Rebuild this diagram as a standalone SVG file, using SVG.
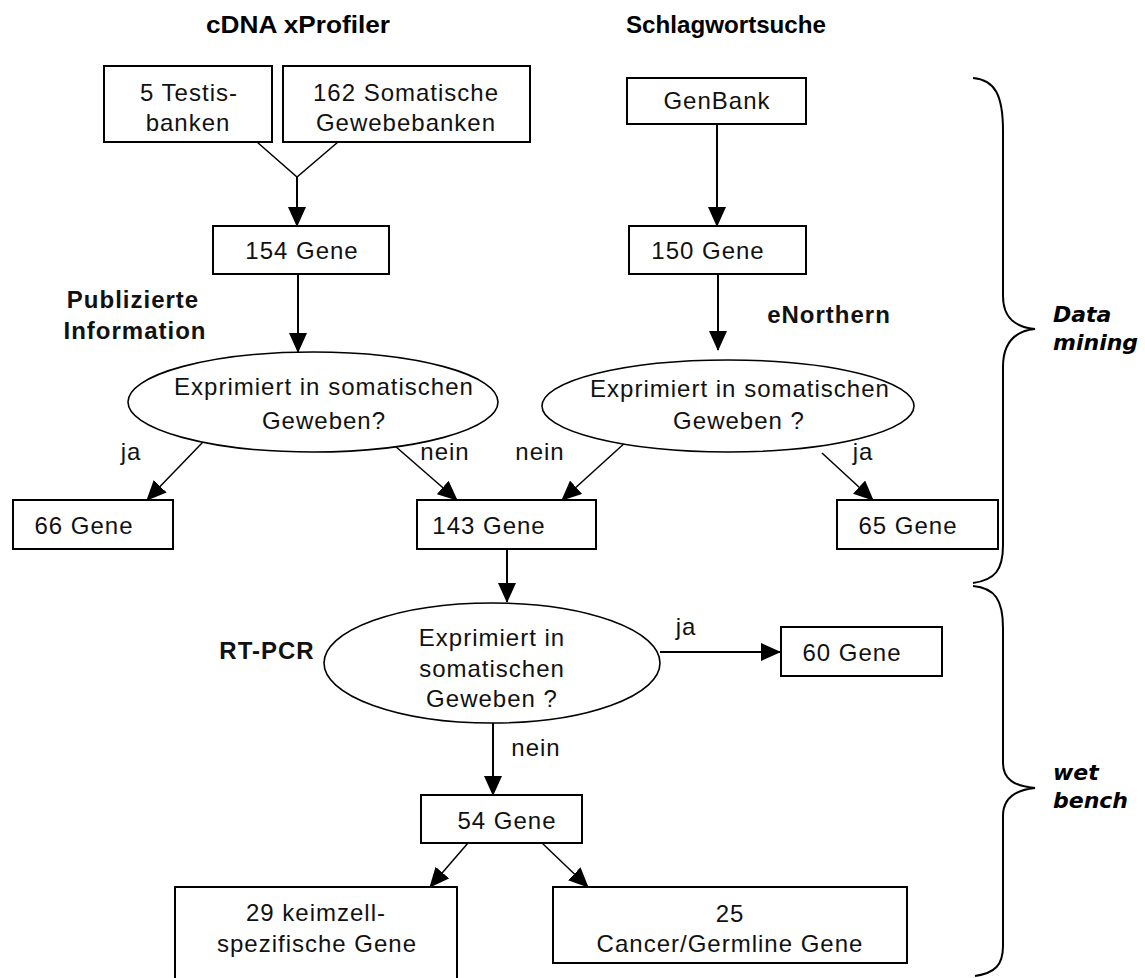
<svg xmlns="http://www.w3.org/2000/svg" width="1145" height="978" viewBox="0 0 1145 978">
<defs>
<style>
.bg{fill:#fff}
.box{fill:#fff;stroke:#000;stroke-width:2}
.ell{fill:#fff;stroke:#000;stroke-width:1.6}
.t{font-family:"Liberation Sans",Arial,sans-serif;font-size:24px;letter-spacing:1px;fill:#111;text-anchor:middle}
.b{font-family:"Liberation Sans",Arial,sans-serif;font-size:24px;font-weight:bold;letter-spacing:1px;fill:#111;text-anchor:middle}
.h{font-family:"Liberation Sans",Arial,sans-serif;font-size:24px;font-weight:bold;fill:#000;text-anchor:middle}
.s{font-family:"DejaVu Sans",Verdana,sans-serif;font-size:22px;font-weight:bold;font-style:italic;fill:#000}
.c{fill:none;stroke:#000;stroke-width:2}
.d{fill:none;stroke:#000;stroke-width:1.5}
.br{fill:none;stroke:#000;stroke-width:2}
</style>
<marker id="ah" markerUnits="userSpaceOnUse" markerWidth="20" markerHeight="18" refX="19" refY="9" orient="auto">
<path d="M0,0 L20,9 L0,18 Z" fill="#000"/>
</marker>
</defs>
<rect class="bg" x="0" y="0" width="1145" height="978"/>

<g id="titles">
<text class="h" x="298" y="33" textLength="184" lengthAdjust="spacingAndGlyphs">cDNA xProfiler</text>
<text class="h" x="726" y="33" textLength="200" lengthAdjust="spacingAndGlyphs">Schlagwortsuche</text>
<text class="b" x="133" y="308">Publizierte</text>
<text class="b" x="135" y="339">Information</text>
<text class="b" x="829" y="323">eNorthern</text>
<text class="b" x="267" y="659">RT-PCR</text>
<text class="s" x="1053" y="322">Data</text>
<text class="s" x="1053" y="350">mining</text>
<text class="s" x="1053" y="780">wet</text>
<text class="s" x="1053" y="808">bench</text>
</g>

<g id="connectors">
<polyline class="d" points="257,142 297,177 338,142"/>
<line class="c" x1="297" y1="177" x2="297" y2="226" marker-end="url(#ah)"/>
<line class="c" x1="717" y1="124" x2="717" y2="226" marker-end="url(#ah)"/>
<line class="c" x1="298" y1="274" x2="298" y2="352" marker-end="url(#ah)"/>
<line class="c" x1="718" y1="274" x2="718" y2="350" marker-end="url(#ah)"/>
<line class="d" x1="203" y1="442" x2="147" y2="500" marker-end="url(#ah)"/>
<line class="d" x1="387" y1="439" x2="457" y2="500" marker-end="url(#ah)"/>
<line class="d" x1="627" y1="441" x2="562" y2="500" marker-end="url(#ah)"/>
<line class="d" x1="822" y1="453" x2="873" y2="500" marker-end="url(#ah)"/>
<line class="c" x1="507" y1="549" x2="507" y2="602" marker-end="url(#ah)"/>
<line class="c" x1="660" y1="652" x2="780" y2="652" marker-end="url(#ah)"/>
<line class="c" x1="493" y1="723" x2="493" y2="795" marker-end="url(#ah)"/>
<line class="d" x1="468" y1="843" x2="430" y2="887" marker-end="url(#ah)"/>
<line class="d" x1="542" y1="843" x2="588" y2="887" marker-end="url(#ah)"/>
<text class="t" x="131" y="460">ja</text>
<text class="t" x="445" y="460">nein</text>
<text class="t" x="540" y="460">nein</text>
<text class="t" x="863" y="460">ja</text>
<text class="t" x="686" y="635">ja</text>
<text class="t" x="536" y="756">nein</text>
</g>

<g id="n-testis">
<rect class="box" x="104" y="66" width="168" height="76"/>
<text class="t" x="189" y="101">5 Testis-</text>
<text class="t" x="188" y="131">banken</text>
</g>
<g id="n-somatic">
<rect class="box" x="283" y="66" width="247" height="76"/>
<text class="t" x="406" y="101">162 Somatische</text>
<text class="t" x="406" y="131">Gewebebanken</text>
</g>
<g id="n-genbank">
<rect class="box" x="627" y="78" width="179" height="46"/>
<text class="t" x="717" y="109">GenBank</text>
</g>
<g id="n-154">
<rect class="box" x="213" y="226" width="176" height="48"/>
<text class="t" x="302" y="259">154 Gene</text>
</g>
<g id="n-150">
<rect class="box" x="629" y="226" width="177" height="48"/>
<text class="t" x="708" y="259">150 Gene</text>
</g>
<g id="n-q1">
<ellipse class="ell" cx="313" cy="402" rx="185" ry="50"/>
<text class="t" x="324" y="395">Exprimiert in somatischen</text>
<text class="t" x="324" y="429">Geweben?</text>
</g>
<g id="n-q2">
<ellipse class="ell" cx="728" cy="406" rx="186" ry="46"/>
<text class="t" x="740" y="397">Exprimiert in somatischen</text>
<text class="t" x="739" y="429">Geweben ?</text>
</g>
<g id="n-66">
<rect class="box" x="13" y="500" width="160" height="49"/>
<text class="t" x="84" y="534">66 Gene</text>
</g>
<g id="n-143">
<rect class="box" x="417" y="500" width="179" height="49"/>
<text class="t" x="489" y="534">143 Gene</text>
</g>
<g id="n-65">
<rect class="box" x="837" y="500" width="161" height="49"/>
<text class="t" x="908" y="534">65 Gene</text>
</g>
<g id="n-q3">
<ellipse class="ell" cx="492" cy="663" rx="168" ry="60"/>
<text class="t" x="492" y="646">Exprimiert in</text>
<text class="t" x="492" y="677">somatischen</text>
<text class="t" x="492" y="707">Geweben ?</text>
</g>
<g id="n-60">
<rect class="box" x="781" y="627" width="161" height="49"/>
<text class="t" x="852" y="661">60 Gene</text>
</g>
<g id="n-54">
<rect class="box" x="421" y="795" width="161" height="48"/>
<text class="t" x="507" y="829">54 Gene</text>
</g>
<g id="n-29">
<rect class="box" x="175" y="887" width="282" height="100"/>
<text class="t" x="316" y="921">29 keimzell-</text>
<text class="t" x="317" y="952">spezifische Gene</text>
</g>
<g id="n-25">
<rect class="box" x="553" y="887" width="354" height="76"/>
<text class="t" x="730" y="922">25</text>
<text class="t" x="730" y="952">Cancer/Germline Gene</text>
</g>

<g id="braces">
<path class="br" d="M973,78 C995,80 1003,95 1003,131 L1003,296 C1003,318 1015,327 1035,329 C1015,331 1003,342 1003,367 L1003,545 C1003,570 995,580 973,583"/>
<path class="br" d="M973,586 C995,588 1003,600 1003,628 L1003,763 C1003,780 1015,786 1035,788 C1015,790 1003,798 1003,816 L1003,946 C1003,965 995,973 975,976"/>
</g>
</svg>
